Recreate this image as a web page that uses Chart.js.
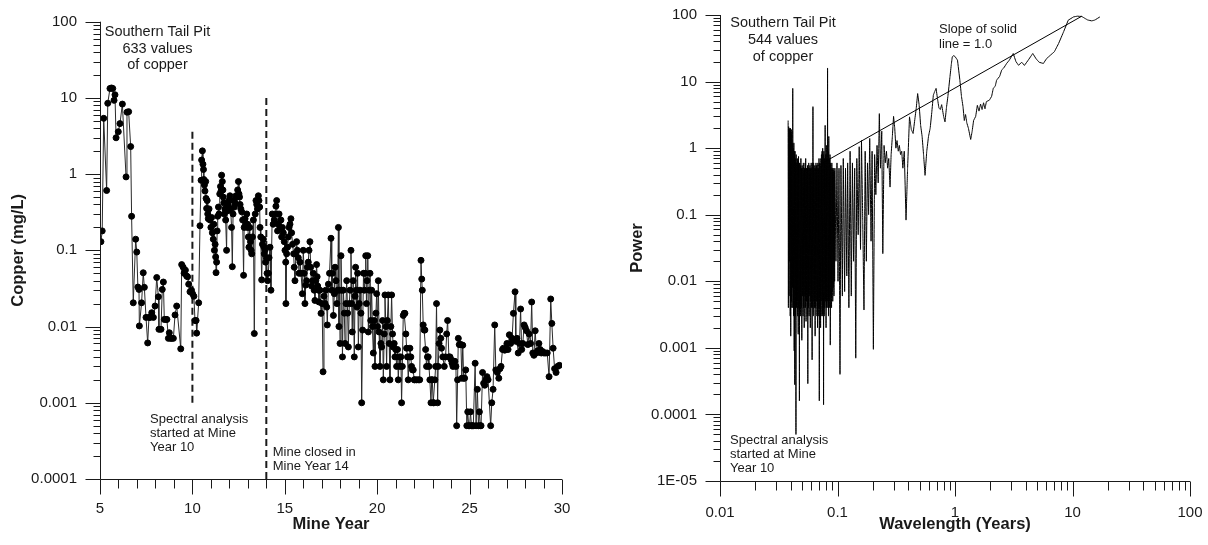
<!DOCTYPE html>
<html>
<head>
<meta charset="utf-8">
<script src="https://cdn.jsdelivr.net/npm/chart.js@4.4.1/dist/chart.umd.min.js"></script>
<style>
  body { margin: 0; background: #fff; }
  canvas { position: absolute; top: 0; }
  #copperChart { left: 0; }
  #powerChart { left: 604px; }
</style>
</head>
<body>
<canvas id="copperChart" width="604" height="545"></canvas>
<canvas id="powerChart" width="604" height="545"></canvas>
<script>
// copper concentration (mg/L) by mine year
const copperSeries = [
  [5.05,0.13],[5.12,0.18],[5.20,5.4],[5.36,0.61],[5.42,8.5],[5.54,13.3],[5.62,13.5],[5.69,13.3],
  [5.76,9.3],[5.81,11],[5.87,3.0],[5.99,3.6],[6.08,4.6],[6.21,8.3],[6.41,0.92],[6.46,6.5],
  [6.55,6.6],[6.66,2.3],[6.71,0.28],[6.80,0.0205],[6.93,0.14],[6.99,0.095],[7.05,0.033],[7.11,0.0307],
  [7.13,0.0102],[7.25,0.0205],[7.34,0.0508],[7.40,0.0327],[7.49,0.0132],[7.58,0.0061],[7.65,0.0132],[7.71,0.0132],
  [7.80,0.0152],[7.89,0.0132],[7.98,0.0186],[8.07,0.044],[8.16,0.0246],[8.19,0.0092],[8.30,0.0092],[8.37,0.0307],
  [8.43,0.0384],[8.48,0.0124],[8.57,0.0124],[8.62,0.0124],[8.70,0.007],[8.75,0.0083],[8.82,0.007],[8.88,0.007],
  [8.97,0.007],[9.06,0.0142],[9.15,0.0186],[9.37,0.0051],[9.42,0.065],[9.50,0.06],[9.55,0.05],[9.62,0.055],
  [9.69,0.046],[9.74,0.045],[9.80,0.036],[9.87,0.0286],[9.95,0.03],[10.01,0.027],[10.08,0.025],[10.14,0.012],
  [10.20,0.012],[10.23,0.0082],[10.34,0.0205],[10.41,0.21],[10.47,0.83],[10.50,1.53],[10.54,2.02],[10.57,1.35],
  [10.60,1.15],[10.62,0.85],[10.65,0.72],[10.68,0.6],[10.72,0.8],[10.74,0.48],[10.77,0.355],[10.80,0.45],
  [10.83,0.3],[10.86,0.26],[10.90,0.35],[10.95,0.25],[11.00,0.2],[11.04,0.27],[11.08,0.17],[11.13,0.14],
  [11.16,0.22],[11.19,0.1],[11.23,0.12],[11.26,0.082],[11.28,0.051],[11.31,0.07],[11.34,0.18],[11.37,0.28],
  [11.41,0.37],[11.44,0.3],[11.48,0.55],[11.52,0.69],[11.55,0.6],[11.58,0.97],[11.62,0.8],[11.65,0.62],
  [11.67,0.5],[11.70,0.42],[11.73,0.3],[11.76,0.35],[11.80,0.25],[11.85,0.1],[11.88,0.4],[11.91,0.33],
  [11.94,0.4],[11.98,0.45],[12.03,0.52],[12.07,0.35],[12.12,0.2],[12.16,0.061],[12.20,0.3],[12.24,0.45],
  [12.27,0.37],[12.31,0.42],[12.36,0.52],[12.40,0.5],[12.45,0.62],[12.49,0.8],[12.52,0.55],[12.55,0.5],
  [12.58,0.4],[12.62,0.35],[12.67,0.32],[12.72,0.25],[12.77,0.047],[12.80,0.2],[12.85,0.26],[12.90,0.22],
  [12.94,0.3],[12.97,0.2],[12.99,0.22],[13.03,0.15],[13.06,0.11],[13.10,0.2],[13.14,0.13],[13.18,0.1],
  [13.21,0.09],[13.25,0.15],[13.30,0.25],[13.35,0.0081],[13.40,0.3],[13.44,0.45],[13.48,0.4],[13.52,0.35],
  [13.57,0.52],[13.60,0.45],[13.64,0.37],[13.66,0.2],[13.70,0.15],[13.75,0.041],[13.79,0.12],[13.84,0.14],
  [13.87,0.11],[13.89,0.09],[13.93,0.1],[13.96,0.07],[14.00,0.08],[14.04,0.05],[14.07,0.04],[14.11,0.05],
  [14.15,0.08],[14.20,0.11],[14.25,0.03],[14.32,0.3],[14.37,0.22],[14.43,0.25],[14.48,0.3],[14.52,0.38],
  [14.56,0.45],[14.61,0.18],[14.65,0.22],[14.69,0.3],[14.74,0.2],[14.79,0.25],[14.83,0.15],[14.87,0.2],
  [14.92,0.17],[14.97,0.13],[15.01,0.1],[15.05,0.07],[15.06,0.02],[15.10,0.09],[15.15,0.11],[15.19,0.15],
  [15.23,0.2],[15.28,0.22],[15.33,0.26],[15.37,0.17],[15.42,0.12],[15.48,0.09],[15.51,0.06],[15.55,0.04],
  [15.60,0.09],[15.64,0.13],[15.68,0.1],[15.73,0.08],[15.77,0.05],[15.82,0.07],[15.88,0.05],[15.95,0.027],
  [16.00,0.1],[16.05,0.05],[16.09,0.02],[16.13,0.035],[16.18,0.04],[16.22,0.06],[16.27,0.07],[16.31,0.1],
  [16.36,0.13],[16.40,0.06],[16.45,0.034],[16.50,0.04],[16.54,0.05],[16.59,0.03],[16.63,0.022],[16.68,0.04],
  [16.72,0.065],[16.75,0.045],[16.78,0.034],[16.82,0.03],[16.85,0.021],[16.90,0.03],[16.96,0.0149],[17.02,0.02],
  [17.07,0.00255],[17.12,0.025],[17.18,0.02],[17.22,0.03],[17.27,0.018],[17.30,0.0105],[17.36,0.036],[17.42,0.05],
  [17.50,0.144],[17.54,0.03],[17.58,0.05],[17.63,0.014],[17.68,0.027],[17.72,0.06],[17.77,0.04],[17.82,0.02],
  [17.86,0.03],[17.90,0.2],[17.93,0.01],[17.96,0.03],[17.99,0.006],[18.04,0.085],[18.08,0.03],[18.12,0.004],
  [18.17,0.03],[18.22,0.015],[18.26,0.006],[18.31,0.02],[18.35,0.04],[18.40,0.015],[18.44,0.0054],[18.49,0.02],
  [18.53,0.03],[18.58,0.1],[18.62,0.02],[18.65,0.0085],[18.70,0.04],[18.76,0.004],[18.80,0.025],[18.83,0.06],
  [18.87,0.03],[18.90,0.018],[18.94,0.05],[18.98,0.0054],[19.03,0.02],[19.07,0.03],[19.12,0.015],[19.16,0.001],
  [19.21,0.009],[19.26,0.05],[19.31,0.03],[19.35,0.05],[19.38,0.085],[19.42,0.02],[19.45,0.04],[19.49,0.085],
  [19.52,0.0085],[19.57,0.03],[19.61,0.05],[19.65,0.012],[19.70,0.03],[19.74,0.01],[19.79,0.0045],[19.84,0.012],
  [19.88,0.003],[19.93,0.015],[19.97,0.027],[20.02,0.01],[20.06,0.04],[20.10,0.0085],[20.15,0.003],[20.20,0.006],
  [20.24,0.0054],[20.29,0.012],[20.33,0.002],[20.38,0.008],[20.42,0.026],[20.47,0.01],[20.51,0.003],[20.55,0.012],
  [20.60,0.026],[20.65,0.006],[20.69,0.002],[20.74,0.01],[20.78,0.026],[20.83,0.008],[20.87,0.0054],[20.92,0.006],
  [20.96,0.004],[21.00,0.005],[21.05,0.003],[21.10,0.005],[21.14,0.002],[21.19,0.004],[21.23,0.003],[21.28,0.004],
  [21.32,0.001],[21.36,0.003],[21.41,0.014],[21.46,0.0149],[21.50,0.0149],[21.55,0.008],[21.59,0.0052],[21.64,0.004],
  [21.68,0.002],[21.73,0.004],[21.77,0.0052],[21.82,0.004],[21.86,0.003],[21.91,0.0027],[21.95,0.0027],[22.00,0.002],
  [22.04,0.002],[22.13,0.002],[22.22,0.002],[22.30,0.002],[22.37,0.074],[22.41,0.042],[22.44,0.03],[22.49,0.0105],
  [22.54,0.009],[22.58,0.009],[22.62,0.005],[22.67,0.003],[22.72,0.004],[22.76,0.004],[22.80,0.003],[22.85,0.002],
  [22.91,0.001],[22.95,0.002],[22.98,0.002],[23.03,0.001],[23.07,0.001],[23.12,0.002],[23.16,0.003],[23.21,0.02],
  [23.27,0.001],[23.30,0.003],[23.35,0.006],[23.39,0.009],[23.44,0.007],[23.48,0.0052],[23.55,0.004],[23.63,0.003],
  [23.70,0.004],[23.76,0.008],[23.81,0.012],[23.88,0.004],[23.94,0.004],[23.99,0.0037],[24.05,0.0033],[24.10,0.003],
  [24.15,0.0035],[24.20,0.0035],[24.26,0.003],[24.30,0.0005],[24.35,0.002],[24.39,0.007],[24.44,0.0058],[24.48,0.0058],
  [24.53,0.0058],[24.58,0.0021],[24.63,0.0057],[24.68,0.0021],[24.73,0.0021],[24.79,0.0027],[24.85,0.0005],[24.90,0.00076],
  [24.95,0.0005],[25.00,0.0005],[25.05,0.00076],[25.10,0.0005],[25.15,0.0005],[25.20,0.0005],[25.30,0.0033],[25.35,0.0005],
  [25.42,0.0015],[25.48,0.0005],[25.53,0.00076],[25.58,0.0005],[25.62,0.0005],[25.70,0.0025],[25.76,0.0018],[25.82,0.0017],
  [25.88,0.002],[25.94,0.0022],[26.00,0.002],[26.14,0.0005],[26.20,0.001],[26.27,0.0015],[26.36,0.0105],[26.42,0.0027],
  [26.50,0.0025],[26.58,0.0021],[26.64,0.0028],[26.70,0.003],[26.78,0.005],[26.83,0.0052],[26.90,0.0049],[26.96,0.005],
  [27.02,0.006],[27.08,0.005],[27.15,0.0078],[27.22,0.006],[27.30,0.007],[27.37,0.0149],[27.46,0.0286],[27.50,0.0064],
  [27.56,0.007],[27.63,0.0045],[27.70,0.006],[27.76,0.017],[27.82,0.005],[27.88,0.006],[27.95,0.0105],[28.01,0.0097],
  [28.08,0.0088],[28.15,0.0058],[28.22,0.008],[28.30,0.006],[28.36,0.021],[28.42,0.0045],[28.48,0.0042],[28.55,0.0088],
  [28.62,0.0045],[28.68,0.0048],[28.75,0.006],[28.82,0.005],[28.88,0.0045],[28.95,0.0047],[29.02,0.0045],[29.10,0.0045],
  [29.20,0.0045],[29.30,0.0022],[29.39,0.023],[29.45,0.011],[29.52,0.0052],[29.60,0.0028],[29.68,0.0025],[29.76,0.003],
  [29.86,0.0031]
];

// dashed markers: mine year, bottom and top of each dashed line
const markerYear = [10, 14];
const markerFrom = [0.001, 0.0001];
const markerTo = [4, 10];

// spectral power by wavelength (years)
const powerSeries = [
  [0.0380,2.6],[0.0382,0.004],[0.0384,2.1],[0.0387,0.006],[0.0389,2.0],[0.0391,0.02],[0.0393,1.9],[0.0396,0.003],
  [0.0398,2.0],[0.0400,0.0015],[0.0402,1.6],[0.0405,0.005],[0.0407,1.9],[0.0409,0.004],[0.0411,1.2],[0.0414,0.008],
  [0.0416,7.9],[0.0418,0.004],[0.0420,1.0],[0.0423,0.003],[0.0425,1.2],[0.0428,0.0009],[0.0430,0.9],[0.0433,0.00028],
  [0.0435,0.9],[0.0438,0.003],[0.0440,0.7],[0.0443,0.00005],[0.0445,0.8],[0.0448,0.004],[0.0450,0.6],[0.0453,0.005],
  [0.0455,0.7],[0.0458,0.003],[0.0460,0.65],[0.0463,0.0016],[0.0466,0.75],[0.0468,0.004],[0.0471,0.6],[0.0474,0.00016],
  [0.0477,0.6],[0.0480,0.005],[0.0482,0.55],[0.0485,0.003],[0.0488,0.7],[0.0491,0.004],[0.0494,0.5],[0.0497,0.0013],
  [0.0500,0.55],[0.0503,0.006],[0.0506,0.5],[0.0509,0.003],[0.0512,0.6],[0.0515,0.004],[0.0518,0.45],[0.0521,0.002],
  [0.0524,0.5],[0.0527,0.006],[0.0530,0.6],[0.0533,0.004],[0.0536,0.7],[0.0540,0.0025],[0.0543,0.5],[0.0546,0.005],
  [0.0549,0.5],[0.0553,0.003],[0.0556,0.55],[0.0559,0.00029],[0.0562,0.5],[0.0566,0.004],[0.0569,0.6],[0.0573,0.003],
  [0.0576,0.5],[0.0580,0.006],[0.0583,0.55],[0.0587,0.002],[0.0590,0.5],[0.0594,0.005],[0.0597,0.6],[0.0601,0.004],
  [0.0604,0.5],[0.0608,0.00066],[0.0611,0.6],[0.0615,0.004],[0.0618,4.2],[0.0622,0.003],[0.0626,0.6],[0.0630,0.005],
  [0.0633,0.5],[0.0637,0.004],[0.0641,0.55],[0.0645,0.0015],[0.0648,0.5],[0.0652,0.004],[0.0656,0.6],[0.0660,0.005],
  [0.0664,0.55],[0.0668,0.003],[0.0672,0.5],[0.0676,0.002],[0.0680,0.6],[0.0684,0.004],[0.0688,0.5],[0.0692,0.003],
  [0.0696,0.7],[0.0700,0.00016],[0.0705,0.6],[0.0709,0.004],[0.0713,0.55],[0.0718,0.002],[0.0722,0.7],[0.0726,0.003],
  [0.0730,0.8],[0.0735,0.005],[0.0739,0.9],[0.0744,0.003],[0.0748,1.0],[0.0752,0.004],[0.0757,0.8],[0.0761,0.00014],
  [0.0766,0.9],[0.0771,0.003],[0.0775,0.7],[0.0780,0.004],[0.0785,2.2],[0.0789,0.005],[0.0794,0.8],[0.0799,0.002],
  [0.0804,1.1],[0.0808,0.004],[0.0813,0.7],[0.0818,0.005],[0.0823,16],[0.0828,0.004],[0.0833,0.9],[0.0838,0.003],
  [0.0843,1.5],[0.0848,0.005],[0.0853,0.7],[0.0858,0.004],[0.0863,0.8],[0.0868,0.0011],[0.0874,0.6],[0.0879,0.006],
  [0.0884,0.5],[0.0890,0.004],[0.0895,0.6],[0.0900,0.007],[0.0906,0.5],[0.0911,0.005],[0.0917,0.45],[0.0922,0.008],
  [0.0928,0.5],[0.0933,0.006],[0.0939,0.45],[0.0945,0.01],[0.0950,0.5],
  [0.097,0.02],[0.099,0.6],[0.101,0.01],[0.103,0.5],[0.105,0.0004],[0.107,0.55],[0.110,0.006],[0.112,0.7],
  [0.115,0.007],[0.117,0.5],[0.120,0.012],[0.122,0.6],[0.125,0.004],[0.128,0.9],[0.131,0.006],[0.134,0.6],
  [0.137,0.02],[0.140,0.5],[0.143,0.0007],[0.146,0.7],[0.150,0.05],[0.153,1.05],[0.157,0.03],[0.160,1.3],
  [0.164,0.08],[0.168,0.0037],[0.172,0.9],[0.176,0.02],[0.180,0.6],[0.184,0.1],[0.188,1.4],[0.193,0.04],
  [0.197,0.9],[0.202,0.00095],[0.207,0.8],[0.212,0.2],[0.217,1.1],[0.222,0.3],[0.227,3.3],[0.232,0.5],
  [0.238,1.8],[0.243,0.026],[0.249,1.1],[0.255,0.6],[0.261,0.9],[0.267,0.5],[0.273,0.7],[0.280,0.26],
  [0.286,0.8],[0.293,1.5],[0.300,3.0],[0.307,2.0],[0.314,1.0],[0.321,1.3],[0.329,0.9],[0.336,1.1],
  [0.344,0.8],[0.352,0.9],[0.360,0.5],[0.37,0.9],[0.383,0.083],[0.395,0.5],[0.41,2.95],[0.425,1.9],
  [0.44,1.66],[0.455,2.7],[0.468,4.0],[0.481,6.6],[0.495,4.5],[0.51,2.2],[0.525,1.5],[0.54,0.8],
  [0.556,0.39],[0.575,0.9],[0.595,1.5],[0.615,2.0],[0.635,3.5],[0.654,6.25],[0.67,7.0],[0.69,7.9],
  [0.71,5.5],[0.73,4.0],[0.75,3.8],[0.77,4.5],[0.8,3.0],[0.822,2.48],[0.845,4.0],[0.87,6.0],
  [0.906,11.8],[0.93,18],[0.948,23.5],[0.975,24.5],[1.0,23.8],[1.05,21],[1.1,10.5],[1.135,6],
  [1.17,4.2],[1.2,2.6],[1.23,3.2],[1.26,2.4],[1.3,2.0],[1.36,1.35],[1.4,1.8],[1.44,2.6],
  [1.5,3.0],[1.55,4.4],[1.6,3.6],[1.65,4.6],[1.7,3.8],[1.75,4.8],[1.8,3.9],[1.85,5.0],
  [1.96,5.25],[2.05,6.0],[2.12,8.0],[2.2,8.5],[2.26,10.5],[2.4,12],[2.5,15],[2.6,16],
  [2.75,18.7],[2.9,21],[3.13,26.4],[3.3,20],[3.47,17.6],[3.7,19.5],[3.9,17.5],[4.2,21],
  [4.59,26.4],[4.9,22],[5.2,19.5],[5.65,18.7],[6.0,22],[6.5,25],[7.0,28],[7.6,37],
  [8.4,56],[9.2,83.6],[10.2,93.6],[11,96],[12,95],[12.8,88.6],[13.5,84],[14.6,81.6],
  [15.5,84],[17.1,93.6]
];

// solid reference line of slope 1.0
const slopeWavelength = [0.065, 12];
const slopePower = [0.52, 96];

// axis ticks and labels
const yearTicks = [5, 10, 15, 20, 25, 30];
const copperTicks = [0.0001, 0.001, 0.01, 0.1, 1, 10, 100];
const copperLabels = ['0.0001', '0.001', '0.01', '0.1', '1', '10', '100'];
const wavelengthTicks = [0.01, 0.1, 1, 10, 100];
const wavelengthLabels = ['0.01', '0.1', '1', '10', '100'];
const powerTicks = [0.00001, 0.0001, 0.001, 0.01, 0.1, 1, 10, 100];
const powerLabels = ['1E-05', '0.0001', '0.001', '0.01', '0.1', '1', '10', '100'];

const FONT = '"Liberation Sans", Arial, sans-serif';
const INK = '#1a1a1a';

function logMinors(majors) {
  const out = [];
  for (let i = 0; i < majors.length - 1; i++) {
    for (let k = 2; k <= 9; k++) out.push(majors[i] * k);
  }
  return out;
}

// axis lines with outward tick marks, major ticks longer than minor ones
const axisFrame = {
  id: 'axisFrame',
  afterDraw(chart, args, opts) {
    const ctx = chart.ctx;
    const a = chart.chartArea;
    const xs = chart.scales.x, ys = chart.scales.y;
    ctx.save();
    ctx.strokeStyle = INK;
    ctx.lineWidth = 1;
    ctx.beginPath();
    const L = Math.round(a.left) + 0.5, B = Math.round(a.bottom) + 0.5;
    ctx.moveTo(L, a.top);
    ctx.lineTo(L, B);
    ctx.moveTo(L, B);
    ctx.lineTo(a.right, B);
    opts.yMajor.forEach(v => {
      const p = Math.round(ys.getPixelForValue(v)) + 0.5;
      ctx.moveTo(L - 15, p); ctx.lineTo(L, p);
    });
    opts.yMinor.forEach(v => {
      const p = Math.round(ys.getPixelForValue(v)) + 0.5;
      ctx.moveTo(L - 7, p); ctx.lineTo(L, p);
    });
    opts.xMajor.forEach(v => {
      const p = Math.round(xs.getPixelForValue(v)) + 0.5;
      ctx.moveTo(p, B); ctx.lineTo(p, B + 15);
    });
    opts.xMinor.forEach(v => {
      const p = Math.round(xs.getPixelForValue(v)) + 0.5;
      ctx.moveTo(p, B); ctx.lineTo(p, B + 9);
    });
    ctx.stroke();
    ctx.restore();
  }
};

// free text notes placed relative to the plot area
const notes = {
  id: 'notes',
  afterDraw(chart, args, opts) {
    const ctx = chart.ctx, a = chart.chartArea;
    ctx.save();
    ctx.fillStyle = INK;
    ctx.textBaseline = 'middle';
    opts.items.forEach(it => {
      ctx.font = it.size + 'px ' + FONT;
      ctx.textAlign = it.align;
      it.lines.forEach((t, i) => ctx.fillText(t, a.left + it.dx, a.top + it.dy + i * it.gap));
    });
    ctx.restore();
  }
};

// tick labels only; the gap to the axis comes from an invisible tick length
function tickScale(type, min, max, ticks, labels, gap) {
  return {
    type: type, min: min, max: max,
    afterBuildTicks: axis => { axis.ticks = ticks.map(v => ({ value: v })); },
    grid: { display: false, drawTicks: true, tickLength: gap - 2 },
    border: { display: false },
    ticks: {
      autoSkip: false, maxRotation: 0, padding: 2,
      color: INK, font: { family: FONT, size: 15 },
      callback: (v, i) => labels ? labels[i] : String(v)
    }
  };
}

function axisTitle(text, padding) {
  return { display: true, text: text, color: INK, padding: padding,
           font: { family: FONT, size: 16.5, weight: 'bold' } };
}

// ---------- left chart ----------
const copperX = tickScale('linear', 5, 30, yearTicks, null, 21);
copperX.title = axisTitle('Mine Year', { bottom: 11 });
copperX.afterFit = s => { s.height = 66; };
const copperY = tickScale('logarithmic', 0.0001, 100, copperTicks, copperLabels, 23);
copperY.title = axisTitle('Copper (mg/L)', { top: 8.6 });
copperY.afterFit = s => { s.width = 100; };

const markerSets = markerYear.map((yr, i) => ({
  data: [{ x: yr, y: markerFrom[i] }, { x: yr, y: markerTo[i] }],
  borderColor: INK, borderWidth: 2, borderDash: [7, 4], pointRadius: 0
}));

new Chart(document.getElementById('copperChart'), {
  type: 'line',
  data: {
    datasets: [{
      data: copperSeries.map(r => ({ x: r[0], y: r[1] })),
      borderColor: '#2a2a2a', borderWidth: 1,
      pointRadius: 3, pointBorderWidth: 1,
      pointBackgroundColor: '#000', pointBorderColor: '#000'
    }].concat(markerSets)
  },
  options: {
    responsive: false, animation: false,
    layout: { padding: { top: 21.7, right: 42, left: 0, bottom: 0 } },
    scales: { x: copperX, y: copperY },
    plugins: {
      legend: { display: false }, tooltip: { enabled: false },
      axisFrame: {
        yMajor: copperTicks, yMinor: logMinors(copperTicks),
        xMajor: yearTicks, xMinor: [6,7,8,9,11,12,13,14,16,17,18,19,21,22,23,24,26,27,28,29]
      },
      notes: {
        items: [
          { lines: ['Southern Tail Pit', '633 values', 'of copper'], dx: 57.5, dy: 10.3, gap: 16.5, size: 14.5, align: 'center' },
          { lines: ['Spectral analysis', 'started at Mine', 'Year 10'], dx: 50, dy: 397.3, gap: 14, size: 13, align: 'left' },
          { lines: ['Mine closed in', 'Mine Year 14'], dx: 172.7, dy: 431, gap: 14, size: 13, align: 'left' }
        ]
      }
    }
  },
  plugins: [axisFrame, notes]
});

// ---------- right chart ----------
const powerX = tickScale('logarithmic', 0.01, 100, wavelengthTicks, wavelengthLabels, 23);
powerX.title = axisTitle('Wavelength (Years)', { bottom: 11 });
powerX.afterFit = s => { s.height = 64; };
const powerY = tickScale('logarithmic', 0.00001, 100, powerTicks, powerLabels, 23);
powerY.title = axisTitle('Power', { top: 24 });
powerY.afterFit = s => { s.width = 116; };

new Chart(document.getElementById('powerChart'), {
  type: 'line',
  data: {
    datasets: [{
      data: powerSeries.map(r => ({ x: r[0], y: r[1] })),
      // tiny tension keeps every segment (no per-pixel merging of the dense spikes)
      borderColor: '#000', borderWidth: 1, pointRadius: 0, tension: 0.0001
    }, {
      data: slopeWavelength.map((w, i) => ({ x: w, y: slopePower[i] })),
      borderColor: '#000', borderWidth: 1, pointRadius: 0
    }]
  },
  options: {
    responsive: false, animation: false,
    layout: { padding: { top: 15, right: 18, left: 0, bottom: 0 } },
    scales: { x: powerX, y: powerY },
    plugins: {
      legend: { display: false }, tooltip: { enabled: false },
      axisFrame: {
        yMajor: powerTicks, yMinor: logMinors(powerTicks),
        xMajor: wavelengthTicks, xMinor: logMinors(wavelengthTicks)
      },
      notes: {
        items: [
          { lines: ['Southern Tail Pit', '544 values', 'of copper'], dx: 63, dy: 8, gap: 17, size: 14.5, align: 'center' },
          { lines: ['Slope of solid', 'line = 1.0'], dx: 219, dy: 14, gap: 15, size: 13, align: 'left' },
          { lines: ['Spectral analysis', 'started at Mine', 'Year 10'], dx: 10, dy: 425, gap: 14, size: 13, align: 'left' }
        ]
      }
    }
  },
  plugins: [axisFrame, notes]
});
</script>
</body>
</html>
